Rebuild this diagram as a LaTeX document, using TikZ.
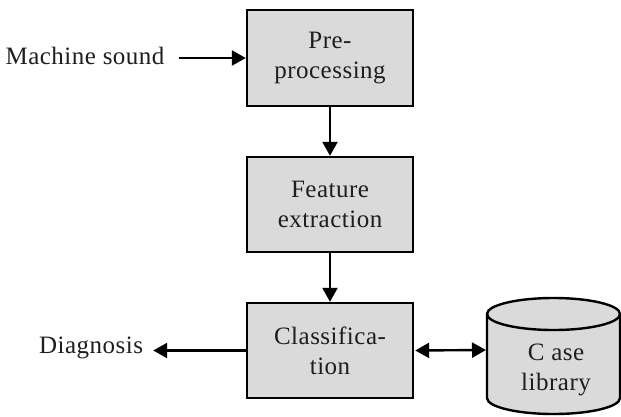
\documentclass[tikz,border=0pt]{standalone}
\usepackage{fontspec}
\setmainfont[LetterSpace=2]{Liberation Serif}
\usetikzlibrary{arrows.meta}
\definecolor{boxgray}{RGB}{218,218,218}
\definecolor{txt}{RGB}{30,30,30}
\begin{document}
\begin{tikzpicture}[x=1pt,y=1pt,
  every node/.style={font=\fontsize{25}{30}\selectfont, text=txt},
  procbox/.style={draw=black, line width=2.4pt, fill=boxgray, minimum width=166pt, align=center, inner sep=0pt},
  arr/.style={line width=2.4pt, -{Triangle[length=14pt,width=15pt]}},
  darr/.style={line width=2.4pt, {Triangle[length=14pt,width=15pt]}-{Triangle[length=14pt,width=15pt]}}]
\useasboundingbox (0,0) rectangle (621,416);
% boxes
\node[procbox, minimum height=96pt] (b1) at (330,358) {Pre-\\processing};
\node[procbox, minimum height=95pt] (b2) at (330,211.5) {Feature\\extraction};
\node[procbox, minimum height=95pt] (b3) at (330,65.5) {Classifica-\\tion};
% labels
\node[inner sep=0pt] (ms) at (85,360) {Machine sound};
\node[inner sep=0pt] (dg) at (91,68) {Diagnosis};
% cylinder
\filldraw[draw=black, line width=2.4pt, fill=boxgray]
  (487,102) -- (487,18) arc[start angle=180, end angle=360, x radius=66.5, y radius=16]
  -- (620,102) arc[start angle=0, end angle=180, x radius=66.5, y radius=16] -- cycle;
\draw[line width=2.4pt] (487,102) arc[start angle=180, end angle=360, x radius=66.5, y radius=16];
\coordinate (cylw) at (487,66);
\node[align=center, inner sep=0pt] (cl) at (556,46) {C ase\\library};
% connectors
\draw[arr] ([xshift=14pt]ms.east |- b1.west) -- (b1.west);
\draw[arr] (b1.south) -- (b2.north);
\draw[arr] (b2.south) -- (b3.north);
\draw[arr] (b3.west) -- ([xshift=10pt]dg.east |- b3.west);
\draw[darr, shorten <=1pt, shorten >=1pt] (b3.east) -- (cylw);
\end{tikzpicture}
\end{document}
